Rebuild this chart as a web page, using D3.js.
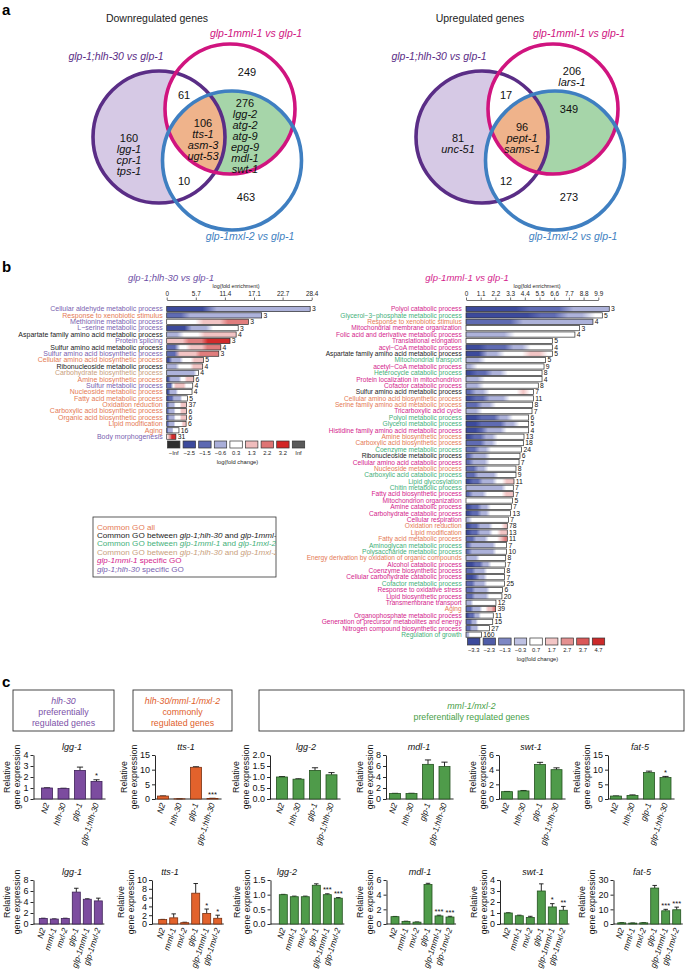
<!DOCTYPE html>
<html><head><meta charset="utf-8">
<script src="https://cdn.jsdelivr.net/npm/d3@7"></script>
<style>
body{margin:0;background:#fff;}
svg{font-family:"Liberation Sans",Arial,Helvetica,sans-serif;}
</style>
</head><body>
<svg id="fig" width="685" height="976"></svg>
<script>
// ================= DATA =================
// Panel a: Venn diagrams. Region order: hlh-only, mml-only, mxl-only, hlh&mml, hlh&mxl, mml&mxl, all three
const vennTitles = ["Downregulated genes", "Upregulated genes"];
const vennSetNames = ["glp-1;hlh-30 vs glp-1", "glp-1mml-1 vs glp-1", "glp-1mxl-2 vs glp-1"];
const downCounts = [160, 249, 463, 61, 10, 276, 106];
const downGenes = [["lgg-1","cpr-1","tps-1"], [], [], [], [], ["lgg-2","atg-2","atg-9","epg-9","mdl-1","swt-1"], ["tts-1","asm-3","ugt-53"]];
const upCounts = [81, 206, 273, 17, 12, 349, 96];
const upGenes = [["unc-51"], ["lars-1"], [], [], [], [], ["pept-1","sams-1"]];

// Panel b left: glp-1;hlh-30 vs glp-1
const goLeftTitle = "glp-1;hlh-30 vs glp-1";
const goLeftTerms = ["Cellular aldehyde metabolic process","Response to xenobiotic stimulus","Methionine metabolic process","L\u2212serine metabolic process","Aspartate family amino acid metabolic process","Protein splicing","Sulfur amino acid metabolic process","Sulfur amino acid biosynthetic process","Cellular amino acid biosynthetic process","Ribonucleoside metabolic process","Carbohydrate biosynthetic process","Amine biosynthetic process","Sulfur metabolic process","Nucleoside metabolic process","Fatty acid metabolic process","Oxidation reduction","Carboxylic acid biosynthetic process","Organic acid biosynthetic process","Lipid modification","Aging","Body morphogenesis"];
const goLeftEnrich = [28.1,18.6,16.0,14.0,13.6,12.4,10.6,10.2,7.2,7.05,6.2,5.3,5.1,4.96,4.05,3.9,3.9,3.9,3.8,2.4,1.8];
const goLeftCounts = [3,3,3,3,4,3,4,3,5,4,4,6,4,4,5,37,6,6,6,16,31];
const goLeftGroups = ["hlh","all","hlh","hlh","hm","hlh","hm","hlh","all","hm","hx","all","hlh","all","all","all","all","all","all","all","hlh"];
const goLeftShades = ["1113333333","2233333333","4444555666","1113334444","3344455555","5556667777","2244555666","2255556666","1333444555","3334444555","3333333334","1333344555","2245555444","1333444444","1223333444","2333444555","2333444555","2333444555","2333444455","2333344444","4556677777"];
const goLeftTicks = [0, 5.7, 11.4, 17.1, 22.7, 28.4];
const goLeftScaleLabels = ["\u2212Inf","\u22122.5","\u22121.5","\u22120.6","0.3","1.3","2.2","3.2","Inf"];

// Panel b right: glp-1mml-1 vs glp-1
const goRightTitle = "glp-1mml-1 vs glp-1";
const goRightTerms = ["Polyol catabolic process","Glycerol\u22123\u2212phosphate metabolic process","Response to xenobiotic stimulus","Mitochondrial membrane organization","Folic acid and derivative metabolic process","Translational elongation","acyl\u2212CoA metabolic process","Aspartate family amino acid metabolic process","Mitochondrial transport","acetyl\u2212CoA metabolic process","Heterocycle catabolic process","Protein localization in mitochondrion","Cofactor catabolic process","Sulfur amino acid metabolic process","Cellular amino acid biosynthetic process","Serine family amino acid metabolic process","Tricarboxylic acid cycle","Polyol metabolic process","Glycerol metabolic process","Histidine family amino acid metabolic process","Amine biosynthetic process","Carboxylic acid biosynthetic process","Coenzyme metabolic process","Ribonucleoside metabolic process","Cellular amino acid catabolic process","Nucleoside metabolic process","Carboxylic acid catabolic process","Lipid glycosylation","Chitin metabolic process","Fatty acid biosynthetic process","Mitochondrion organization","Amine catabolic process","Carbohydrate catabolic process","Cellular respiration","Oxidation reduction","Lipid modification","Fatty acid metabolic process","Aminoglycan metabolic process","Polysaccharide metabolic process","Energy derivation by oxidation of organic compounds","Alcohol catabolic process","Coenzyme biosynthetic process","Cellular carbohydrate catabolic process","Cofactor metabolic process","Response to oxidative stress","Lipid biosynthetic process","Transmembrane transport","Aging","Organophosphate metabolic process","Generation of precursor metabolites and energy","Nitrogen compound biosynthetic process","Regulation of growth"];
const goRightEnrich = [10.72,10.2,9.5,8.5,8.15,6.46,6.46,6.46,5.96,5.84,5.69,5.69,5.41,5.04,5.04,4.99,4.94,4.69,4.69,4.69,4.34,4.29,4.16,4.04,3.97,3.74,3.74,3.59,3.54,3.54,3.49,3.39,3.34,3.17,3.09,3.09,3.09,3.04,3.04,2.97,2.94,2.89,2.89,2.89,2.74,2.69,2.24,2.22,2.04,2.0,1.75,1.15];
const goRightCounts = [3,5,4,3,4,5,4,5,5,9,8,4,8,7,11,8,7,6,5,4,13,18,24,6,7,8,9,11,7,7,5,7,13,7,78,13,11,7,10,8,7,8,7,25,6,20,12,39,11,15,27,160];
const goRightGroups = ["mml","mm","all","mml","mml","mml","mml","hm","mm","mml","mm","mml","mml","hm","all","all","mml","mm","mm","mml","all","all","mm","hm","mml","all","mm","mm","mm","mml","mml","mml","mml","mml","all","all","all","mm","mm","all","mml","mml","mml","mm","mml","mml","mml","all","mml","mml","mml","mm"];
const goRightShades = ["1111222333","1111122334","2222333333","4444444444","3333444444","4444444444","1122233444","1133444554","3344444444","3444444444","1223344444","3344444444","3344444444","2334444454","1223334444","2233444444","3344444444","1122233444","1122223344","1123334444","1223344444","2223344444","2233444444","2333444444","2333444444","2233444444","2233334444","1223334455","3333333344","2333444455","4444444444","1223344444","1223344444","3444444444","1223334445","1223334455","2233344456","2333333444","2333333444","3334444444","1122334444","2233344444","1123344444","2233344444","2233334444","2233334444","3344444444","2233344556","1223344444","2233444444","2233344444","3344444444"];
const goRightTicks = [0, 1.1, 2.2, 3.3, 4.4, 5.5, 6.6, 7.7, 8.8, 9.9];
const goRightScaleLabels = ["\u22123.3","\u22122.3","\u22121.3","\u22120.3","0.7","1.7","2.7","3.7","4.7"];

// GO legend
const goLegendGroups = ["all","hm","mm","hx","mml","hlh"];

// Panel c
const cBoxes = [
  {lines:[["hlh-30",1],["preferentially",0],["regulated genes",0]], grp:"hlh"},
  {lines:[["hlh-30/mml-1/mxl-2",1],["commonly",0],["regulated genes",0]], grp:"common"},
  {lines:[["mml-1/mxl-2",1],["preferentially regulated genes",0]], grp:"mm"}
];
const cGenes = ["lgg-1","tts-1","lgg-2","mdl-1","swt-1","fat-5"];
const cGeneGroup = ["hlh","common","mm","mm","mm","mm"];
const cTopStrains = ["N2","hlh-30","glp-1","glp-1;hlh-30"];
const cTopMeans = [[1.0,0.95,2.6,1.6],[1.0,0.05,10.8,0.2],[1.0,0.9,1.3,1.1],[1.0,1.0,6.3,5.9],[1.0,1.1,4.7,4.0],[1.0,1.2,9.0,7.3]];
const cTopErr = [[0.02,0.03,0.3,0.15],[0.05,0.01,0.2,0.05],[0.02,0.02,0.12,0.1],[0.03,0.04,0.8,0.8],[0.03,0.06,0.3,0.25],[0.05,0.2,0.5,0.4]];
const cTopSig = [["","","","*"],["","","","***"],["","","",""],["","","",""],["","","",""],["","","","*"]];
const cTopTicks = [[0,1,2,3,4],[0,5,10,15],[0,0.5,1.0,1.5,2.0],[0,2,4,6,8],[0,2,4,6],[0,5,10,15]];
const cBotStrains = ["N2","mml-1","mxl-2","glp-1","glp-1mml-1","glp-1mxl-2"];
const cBotMeans = [[1.0,0.9,1.0,5.8,4.5,4.2],[1.0,1.4,0.3,7.0,2.4,1.3],[1.0,0.93,0.93,1.32,1.0,0.88],[1.0,0.35,0.25,5.4,1.1,0.95],[1.0,0.75,0.6,3.0,1.55,1.25],[0.8,0.6,0.8,24.5,9.0,9.7]];
const cBotErr = [[0.05,0.03,0.05,0.7,0.08,0.5],[0.05,0.9,0.1,2.2,1.0,0.7],[0.01,0.02,0.02,0.05,0.03,0.02],[0.03,0.03,0.03,0.15,0.1,0.1],[0.02,0.05,0.1,0.65,0.3,0.35],[0.1,0.1,0.1,1.8,1.0,1.8]];
const cBotSig = [["","","","","",""],["","","","","*","*"],["","","","","***","***"],["","","","","***","***"],["","","","","*","**"],["","","","","***","***"]];
const cBotTicks = [[0,2,4,6,8],[0,2,4,6,8,10],[0,0.5,1.0,1.5],[0,2,4,6],[0,1,2,3,4],[0,10,20,30]];
const cYLabel = ["Relative", "gene expression"];

// ================= STYLE =================
const grpColor = {all:"#e57a55", hm:"#1a1a1a", mm:"#45b07a", hx:"#c9a07c", mml:"#d41d8c", hlh:"#7a5fb0"};
const shadePal = {"1":"#3c4a9c","2":"#5f6bb3","3":"#adb2da","4":"#ffffff","5":"#f2c4c4","6":"#e07d7d","7":"#d22b2b"};
const leftLegendColors = ["#2e2e2e","#3c4a9c","#5d69b2","#a9aed8","#ffffff","#f0bcbc","#de7474","#d22626","#5a5a5a"];
const rightLegendColors = ["#3c4a9c","#4f5ca8","#7e87c3","#bec1e2","#ffffff","#f2c6c6","#e49090","#da5858","#cc2a2a"];
const cFill = {hlh:"#7c4c9f", common:"#e2622c", mm:"#4f9b4a"};
const cStroke = {hlh:"#3e2258", common:"#7a3010", mm:"#23521f"};
const cText = {hlh:"#7b52a8", common:"#e0602a", mm:"#48a048"};

const svg = d3.select("#fig");
const defs = svg.append("defs");

function panelLetter(t, x, y){
  svg.append("text").attr("x",x).attr("y",y).attr("font-size",15).attr("font-weight","bold").text(t);
}
panelLetter("a", 2, 15);
panelLetter("b", 2, 272);
panelLetter("c", 2, 687);

// ================= PANEL A =================
const vennCircles = [{cx:159,cy:137,r:66,color:"#5a2d86"},{cx:230,cy:109,r:65,color:"#d0147f"},{cx:232,cy:160.5,r:69.5,color:"#3f7fc1"}];
const vennLabelPos = [{x:116,y:60},{x:256,y:37},{x:250,y:240}];
const downAnchors = [{x:129,y:138},{x:247,y:72},{x:246,y:197},{x:184,y:95},{x:184,y:181},{x:245,y:103},{x:203,y:123}];
const upAnchors = [{x:135,y:138},{x:249,y:71},{x:246,y:197},{x:183,y:95},{x:183,y:181},{x:246,y:109},{x:199,y:127}];

function venn(dx, title, counts, genes, anchors, id){
  const g = svg.append("g").attr("transform",`translate(${dx},0)`);
  vennCircles.forEach((c,i)=>{
    defs.append("clipPath").attr("id",`${id}c${i}`).append("circle").attr("cx",c.cx).attr("cy",c.cy).attr("r",c.r);
  });
  const circ = (sel,c)=> sel.append("circle").attr("cx",c.cx).attr("cy",c.cy).attr("r",c.r);
  circ(g, vennCircles[0]).attr("fill","#d6c9e5");
  circ(g, vennCircles[1]).attr("fill","#fff");
  circ(g, vennCircles[2]).attr("fill","#fff");
  circ(g.append("g").attr("clip-path",`url(#${id}c1)`), vennCircles[2]).attr("fill","#a6d5a9");
  circ(g.append("g").attr("clip-path",`url(#${id}c1)`).append("g").attr("clip-path",`url(#${id}c2)`), vennCircles[0]).attr("fill","#efb38b");
  vennCircles.forEach(c=> circ(g,c).attr("fill","none").attr("stroke",c.color).attr("stroke-width",3.6));
  g.append("text").attr("x",157).attr("y",22).attr("text-anchor","middle").attr("font-size",10.5).attr("fill","#222").text(title);
  vennSetNames.forEach((n,i)=>{
    g.append("text").attr("x",vennLabelPos[i].x).attr("y",vennLabelPos[i].y).attr("text-anchor","middle")
      .attr("font-size",10.5).attr("font-style","italic").attr("fill",vennCircles[i].color).text(n);
  });
  counts.forEach((n,i)=>{
    const a = anchors[i];
    const t = g.append("text").attr("text-anchor","middle").attr("font-size",11).attr("fill","#111");
    t.append("tspan").attr("x",a.x).attr("y",a.y+4).text(n);
    genes[i].forEach((gn,k)=> t.append("tspan").attr("x",a.x).attr("dy",11).attr("font-style","italic").text(gn));
  });
}
venn(0, vennTitles[0], downCounts, downGenes, downAnchors, "vd");
venn(323, vennTitles[1], upCounts, upGenes, upAnchors, "vu");

// ================= PANEL B =================
const barStep = 6.385, barH = 5.2, goY0 = 309;
function goPanel(o){
  const x = d3.scaleLinear().domain([0, o.dmax]).range([o.x0, o.x1]);
  const ax = svg.append("g").attr("transform","translate(0,300)")
    .call(d3.axisTop(x).tickValues(o.ticks).tickSize(2.5).tickSizeOuter(0).tickPadding(1.5).tickFormat(d=>String(d)));
  ax.selectAll("text").attr("font-size",6.4).attr("fill","#222").attr("font-family",'"Liberation Sans",Arial,sans-serif');
  ax.selectAll("path,line").attr("stroke","#333").attr("stroke-width",0.7);
  svg.append("text").attr("x",o.titleX).attr("y",281).attr("text-anchor","middle").attr("font-size",9.5)
    .attr("font-style","italic").attr("fill",o.titleColor).text(o.title);
  svg.append("text").attr("x",o.efX).attr("y",287.5).attr("text-anchor","middle").attr("font-size",5.3).attr("fill","#222").text("log(fold enrichment)");
  const g = svg.append("g");
  o.terms.forEach((t,i)=>{
    const yc = goY0 + i*barStep;
    const gid = o.id+"g"+i;
    const lg = defs.append("linearGradient").attr("id",gid);
    const s = o.shades[i];
    for(let k=0;k<s.length;k++) lg.append("stop").attr("offset",(k+0.5)/s.length).attr("stop-color",shadePal[s[k]]);
    g.append("rect").attr("x",x(0)).attr("y",yc-barH/2).attr("width",x(o.enrich[i])-x(0)).attr("height",barH)
      .attr("fill",`url(#${gid})`).attr("stroke","#2a2a2a").attr("stroke-width",0.7);
    g.append("text").attr("x",o.labelX).attr("y",yc+2.3).attr("text-anchor","end").attr("font-size",o.labelSize)
      .attr("fill",grpColor[o.groups[i]]).text(t);
    g.append("text").attr("x",x(o.enrich[i])+1.8).attr("y",yc+2.4).attr("font-size",6.8).attr("fill","#111").text(o.counts[i]);
  });
  const ly = o.legY;
  o.legColors.forEach((c,k)=>{
    const bx = o.legX0 + k*15.6;
    svg.append("rect").attr("x",bx).attr("y",ly).attr("width",12.4).attr("height",7).attr("fill",c).attr("stroke","#333").attr("stroke-width",0.7);
    svg.append("text").attr("x",bx+6.2).attr("y",ly+14).attr("text-anchor","middle").attr("font-size",5.8).attr("fill","#222").text(o.legLabels[k]);
  });
  svg.append("text").attr("x",o.legX0+70).attr("y",ly+23).attr("text-anchor","middle").attr("font-size",5.8).attr("fill","#222").text("log(fold change)");
}
goPanel({id:"gl", terms:goLeftTerms, enrich:goLeftEnrich, counts:goLeftCounts, groups:goLeftGroups, shades:goLeftShades,
  ticks:goLeftTicks, dmax:28.4, x0:166.7, x1:311.7, labelX:162.7, labelSize:7.0, title:goLeftTitle, titleX:171, titleColor:"#6d4fa5", efX:236,
  legColors:leftLegendColors, legLabels:goLeftScaleLabels, legX0:167.5, legY:441});
goPanel({id:"gr", terms:goRightTerms, enrich:goRightEnrich, counts:goRightCounts, groups:goRightGroups, shades:goRightShades,
  ticks:goRightTicks, dmax:9.9, x0:466, x1:598.3, labelX:461.7, labelSize:6.6, title:goRightTitle, titleX:467, titleColor:"#d41d8c", efX:537,
  legColors:rightLegendColors, legLabels:goRightScaleLabels, legX0:467.5, legY:638});

// GO legend box
(function(){
  const bx=93, by=517, bw=183, bh=60;
  defs.append("clipPath").attr("id","legclip").append("rect").attr("x",bx).attr("y",by).attr("width",bw).attr("height",bh);
  svg.append("rect").attr("x",bx).attr("y",by).attr("width",bw).attr("height",bh).attr("fill","#fff").attr("stroke","#333").attr("stroke-width",0.8);
  const lines = [
    [["Common GO all",0]],
    [["Common GO between ",0],["glp-1;hlh-30",1],[" and ",0],["glp-1mml-1",1]],
    [["Common GO between ",0],["glp-1mml-1",1],[" and ",0],["glp-1mxl-2",1]],
    [["Common GO between ",0],["glp-1;hlh-30",1],[" and ",0],["glp-1mxl-2",1]],
    [["glp-1mml-1",1],[" specific GO",0]],
    [["glp-1;hlh-30",1],[" specific GO",0]]
  ];
  const g = svg.append("g").attr("clip-path","url(#legclip)");
  lines.forEach((ln,i)=>{
    const t = g.append("text").attr("x",bx+4).attr("y",by+12.6+i*8.4).attr("font-size",8.1).attr("fill",grpColor[goLegendGroups[i]]);
    ln.forEach(p=> t.append("tspan").attr("font-style",p[1]?"italic":"normal").text(p[0]));
  });
})();

// ================= PANEL C =================
const boxGeom = [{x:13,w:101},{x:133,w:99},{x:259,w:425}];
cBoxes.forEach((b,i)=>{
  const gm = boxGeom[i];
  svg.append("rect").attr("x",gm.x).attr("y",690).attr("width",gm.w).attr("height",41).attr("fill","#fff").attr("stroke","#333").attr("stroke-width",0.9);
  const n = b.lines.length;
  const y0 = n===3 ? 703.5 : 708.5;
  b.lines.forEach((l,k)=>{
    svg.append("text").attr("x",gm.x+gm.w/2).attr("y",y0+k*11).attr("text-anchor","middle").attr("font-size",8.8)
      .attr("font-style",l[1]?"italic":"normal").attr("fill",cText[b.grp]).text(l[0]);
  });
});

function exprChart(o){
  const g = svg.append("g");
  const y = d3.scaleLinear().domain([0, o.ticks[o.ticks.length-1]]).range([o.yb, o.yt]);
  const xc = i => o.first + i*o.step;
  const n = o.means.length;
  const fmt = d3.format(o.fmt);
  const ax = g.append("g").attr("transform",`translate(${o.ax},0)`)
    .call(d3.axisLeft(y).tickValues(o.ticks).tickSize(3).tickSizeOuter(0).tickPadding(2).tickFormat(fmt));
  ax.selectAll("text").attr("font-size",9).attr("fill","#111").attr("font-family",'"Liberation Sans",Arial,sans-serif');
  ax.selectAll("path,line").attr("stroke","#111").attr("stroke-width",0.9);
  g.append("line").attr("x1",o.ax).attr("x2",xc(n-1)+o.step*0.55).attr("y1",o.yb).attr("y2",o.yb).attr("stroke","#111").attr("stroke-width",0.9);
  o.means.forEach((m,i)=>{
    const cx = xc(i), e = o.errs[i];
    g.append("line").attr("x1",cx).attr("x2",cx).attr("y1",y(m)).attr("y2",y(m+e)).attr("stroke","#111").attr("stroke-width",0.9);
    g.append("line").attr("x1",cx-o.bw*0.28).attr("x2",cx+o.bw*0.28).attr("y1",y(m+e)).attr("y2",y(m+e)).attr("stroke","#111").attr("stroke-width",0.9);
    g.append("rect").attr("x",cx-o.bw/2).attr("y",y(m)).attr("width",o.bw).attr("height",o.yb-y(m))
      .attr("fill",cFill[o.grp]).attr("stroke",cStroke[o.grp]).attr("stroke-width",0.8);
    if(o.sig[i]) g.append("text").attr("x",cx).attr("y",y(m+e)-1.5).attr("text-anchor","middle").attr("font-size",7.5).attr("fill","#111").text(o.sig[i]);
    g.append("text").attr("transform",`translate(${cx+2.5},${o.yb+5}) rotate(-72)`).attr("text-anchor","end")
      .attr("font-size",8.3).attr("font-style","italic").attr("fill","#111").text(o.strains[i]);
  });
  g.append("text").attr("x",o.titleX).attr("y",o.yt-5).attr("text-anchor","middle").attr("font-size",9).attr("font-style","italic").attr("fill","#111").text(o.gene);
  // y label placed just left of the widest tick label
  let tw = 0;
  ax.selectAll("text").each(function(){ tw = Math.max(tw, this.getComputedTextLength()); });
  const ym = (o.yt+o.yb)/2;
  const gx = o.ax - 5 - tw - 3;
  cYLabel.forEach((l,k)=>{
    g.append("text").attr("transform",`translate(${gx-10+k*10},${ym}) rotate(-90)`).attr("text-anchor","middle")
      .attr("font-size",8.8).attr("fill","#111").text(l);
  });
}
const topAxisX = [33.5, 155, 270, 386, 499, 608];
const topFirst = [47, 163, 282, 395, 507, 616];
const topTitleX = [72, 186, 306, 419, 531, 640];
const botAxisX = [33.5, 152, 270.5, 386.5, 500, 613.5];
const botFirst = [43.3, 162.7, 283.3, 395, 508.3, 621.7];
const botTitleX = [72, 170, 287, 420, 533, 642];
cGenes.forEach((gn,i)=>{
  exprChart({gene:gn, grp:cGeneGroup[i], strains:cTopStrains, means:cTopMeans[i], errs:cTopErr[i], sig:cTopSig[i], ticks:cTopTicks[i],
    fmt: i===2 ? ".1f" : "d", ax:topAxisX[i], first:topFirst[i], step:16.5, bw:11, yt:755, yb:799, titleX:topTitleX[i]});
  exprChart({gene:gn, grp:cGeneGroup[i], strains:cBotStrains, means:cBotMeans[i], errs:cBotErr[i], sig:cBotSig[i], ticks:cBotTicks[i],
    fmt: i===2 ? ".1f" : "d", ax:botAxisX[i], first:botFirst[i], step:11, bw:8, yt:880, yb:924, titleX:botTitleX[i]});
});
</script>
</body></html>
